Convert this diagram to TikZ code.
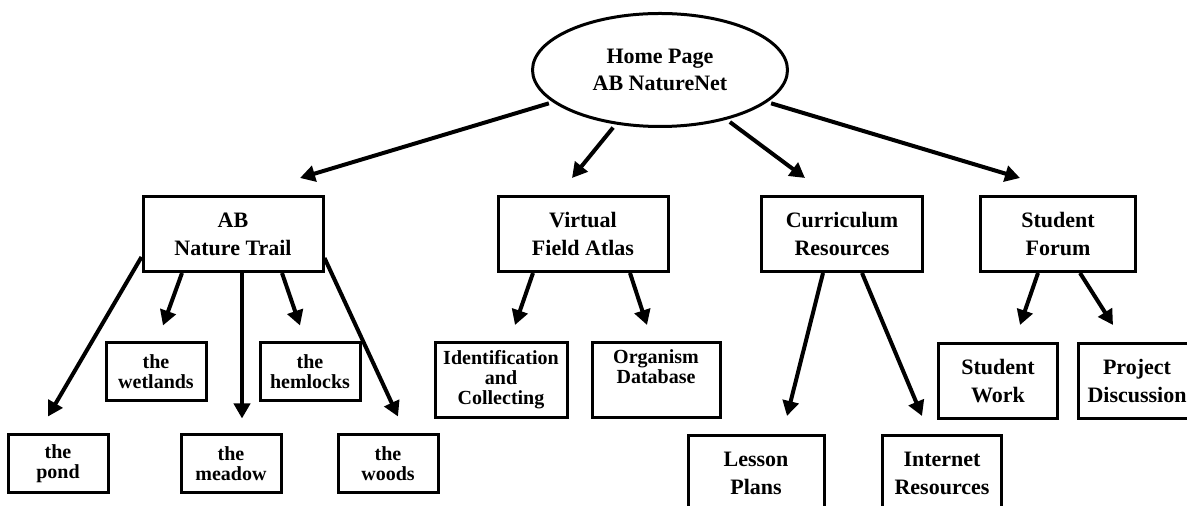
\documentclass[tikz,border=0pt]{standalone}
\usepackage{fontspec}
\setmainfont{Liberation Serif}
\usetikzlibrary{shapes.geometric,arrows.meta,calc}

\begin{document}
\begin{tikzpicture}[x=0.5pt,y=-0.5pt,
  box/.style={draw,line width=1.5pt,rectangle,inner sep=0pt,align=center,
    font=\bfseries\fontsize{11}{14}\selectfont,minimum height=37.5pt},
  leaf/.style={box,font=\bfseries\fontsize{10}{10}\selectfont,minimum width=50pt,minimum height=29pt},
  arr/.style={line width=2pt,-{Triangle[length=7.5pt,width=8pt]}}]
  \useasboundingbox (0,0) rectangle (1187,506);
  \clip (0,0) rectangle (1187,506);

  \node[ellipse,draw,line width=1.5pt,minimum width=127.5pt,minimum height=56.5pt,inner sep=0pt,
    align=center,font=\bfseries\fontsize{11}{13.5}\selectfont] (home) at (660,70) {Home Page\\AB NatureNet};

  % first level
  \node[box,minimum width=90pt] (trail) at (233,234) {AB\\Nature Trail};
  \node[box,minimum width=85pt] (atlas) at (583,234) {Virtual\\Field Atlas};
  \node[box,minimum width=80.5pt] (curric) at (842,234) {Curriculum\\Resources};
  \node[box,minimum width=77.5pt] (forum) at (1058,234) {Student\\Forum};

  % nature trail stops
  \node[leaf] (wetlands) at (156,372) {the\\wetlands};
  \node[leaf] (hemlocks) at (310,372) {the\\hemlocks};
  \node[leaf] (pond) at (58,464) {the\\pond};
  \node[leaf] (meadow) at (231,464) {the\\meadow};
  \node[leaf] (woods) at (388,464) {the\\woods};

  % second level
  \node[leaf,minimum width=66pt,minimum height=37.5pt] (ident) at (501,380) {Identification\\and\\Collecting};
  \node[leaf,minimum width=64pt,minimum height=37.5pt] (organism) at (656,380) {Organism\\Database\\\strut};
  \node[box,minimum width=68pt] (lesson) at (756,473) {Lesson\\Plans};
  \node[box,minimum width=59.5pt] (internet) at (942,473) {Internet\\Resources};
  \node[box,minimum width=59.5pt] (work) at (998,381) {Student\\Work};
  \node[box,minimum width=59pt] (project) at (1137,381) {Project\\Discussion};

  % arrows from home page
  \draw[arr,shorten <=2pt] (home) -- ($(trail.north)+(67,-17)$);
  \draw[arr,shorten <=2pt] (home) -- ($(atlas.north)+(-11,-17)$);
  \draw[arr,shorten <=2pt] (home) -- ($(curric.north)+(-37,-17)$);
  \draw[arr,shorten <=2pt] (home) -- ($(forum.north)+(-38,-17)$);

  % arrows from nature trail
  \draw[arr] ($(trail.west)+(0,23)$) -- ($(pond.north)+(-10,-17)$);
  \draw[arr] ($(trail.south)+(-51,0)$) -- ($(wetlands.north)+(7,-16)$);
  \draw[arr] ($(trail.south)+(9,0)$) -- ($(meadow.north)+(11,-15)$);
  \draw[arr] ($(trail.south)+(49,0)$) -- ($(hemlocks.north)+(-10,-16)$);
  \draw[arr] ($(trail.east)+(0,24)$) -- ($(woods.north)+(10,-17)$);

  % arrows from the other boxes
  \draw[arr] ($(atlas.south)+(-50,0)$) -- ($(ident.north)+(14,-16)$);
  \draw[arr] ($(atlas.south)+(47,0)$) -- ($(organism.north)+(-9,-16)$);
  \draw[arr] ($(curric.south)+(-19,0)$) -- ($(lesson.north)+(31,-18)$);
  \draw[arr] ($(curric.south)+(20,0)$) -- ($(internet.north)+(-20,-18)$);
  \draw[arr] ($(forum.south)+(-20,0)$) -- ($(work.north)+(22,-17)$);
  \draw[arr] ($(forum.south)+(22,0)$) -- ($(project.north)+(-24,-17)$);
\end{tikzpicture}
\end{document}
